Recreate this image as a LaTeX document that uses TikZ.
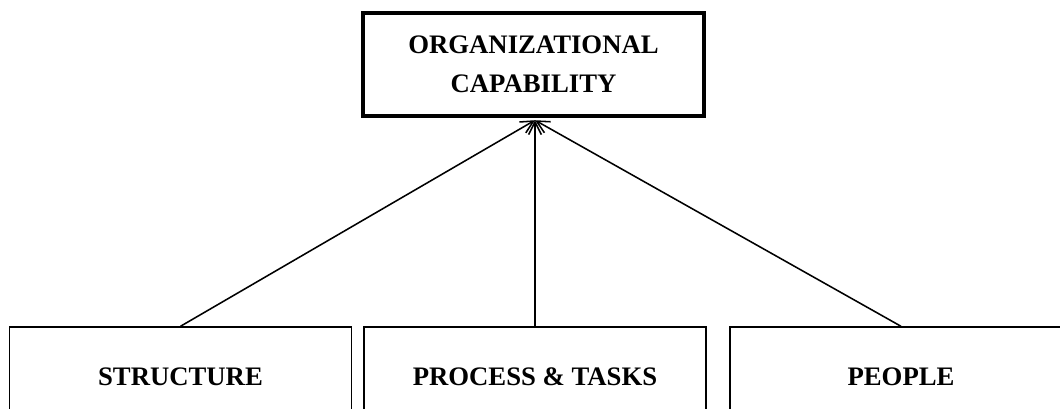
\documentclass[tikz,border=0pt]{standalone}
\usepackage{fontspec}
\setmainfont{Liberation Serif}
\usetikzlibrary{arrows.meta}

\tikzset{
    factor/.style={draw, line width=1pt, minimum width=8.55cm, minimum height=2.5cm,
        font=\fontsize{19}{28}\selectfont\bfseries},
    goal/.style={draw, line width=3pt, minimum width=8.525cm, minimum height=2.575cm,
        align=center, font=\fontsize{19}{28}\selectfont\bfseries},
    link/.style={line width=1.1pt, -{Straight Barb[length=9pt,width=9pt]}}
}

\begin{document}
\begin{tikzpicture}
        \clip (0,0) rectangle (26.5,-10.225);
        \node[goal] (cap) at (13.3375,-1.6125) {ORGANIZATIONAL\\CAPABILITY};
        \node[factor] (struct) at (4.5125,-9.425) {STRUCTURE};
        \node[factor] (proc) at (13.375,-9.425) {PROCESS \& TASKS};
        \node[factor] (people) at (22.525,-9.425) {PEOPLE};
        \coordinate (tip) at ([yshift=-1.5pt]cap.south -| proc.north);
        \draw[link] (struct.north) -- (tip);
        \draw[link] (proc.north) -- (tip);
        \draw[link] (people.north) -- (tip);
    \end{tikzpicture}
\end{document}
